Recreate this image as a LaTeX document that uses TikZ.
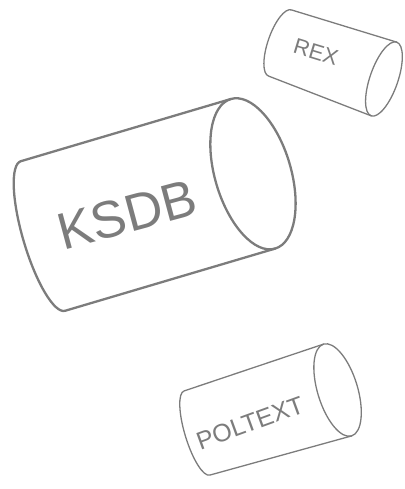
\documentclass[tikz,border=0pt]{standalone}
\usepackage{fontspec}
\setmainfont{Liberation Sans}
\definecolor{SketchGray}{HTML}{7C7C7C}

\begin{document}
\begin{tikzpicture}[x=1pt,y=1pt,
  drum/.style={draw=SketchGray,line width=1.3pt,line join=round,line cap=round},
  drumname/.style={text=SketchGray,inner sep=0pt}
]
\useasboundingbox (0,0) rectangle (404,489);
% KSDB
\begin{scope}[shift={(43,253)},rotate=16.5]
  \draw[drum,line width=2.3pt] (219,78) -- (0,78) arc[start angle=90,end angle=270,x radius=20,y radius=78] -- (219,-78);
  \draw[drum,line width=2.3pt] (219,0) ellipse[x radius=38,y radius=78];
\end{scope}
\node[drumname,font=\fontsize{52}{52}\selectfont,rotate=15] (ksdb) at (127,274) {KSDB};
% REX
\begin{scope}[shift={(280,446)},rotate=-19.1]
  \draw[drum] (110,39) -- (0,35) arc[start angle=90,end angle=270,x radius=12,y radius=35] -- (110,-39);
  \draw[drum] (110,0) ellipse[x radius=14,y radius=39];
\end{scope}
\node[drumname,font=\fontsize{22}{22}\selectfont,rotate=-17] (rex) at (316,437) {REX};
% POLTEXT
\begin{scope}[shift={(197,56)},rotate=17]
  \draw[drum] (147,48) -- (0,44) arc[start angle=90,end angle=270,x radius=12,y radius=44] -- (147,-48);
  \draw[drum] (147,0) ellipse[x radius=20,y radius=48];
\end{scope}
\node[drumname,font=\fontsize{25}{25}\selectfont,rotate=20] (poltext) at (250,66) {POLTEXT};
\end{tikzpicture}
\end{document}
